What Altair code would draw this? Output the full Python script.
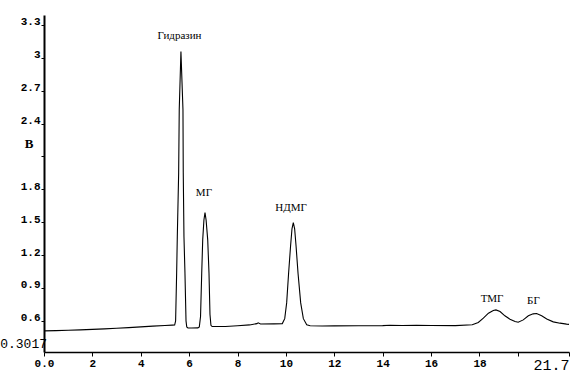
import altair as alt
import pandas as pd

# Chromatogram trace (time, min; signal, V)
time = [0.0, 0.5, 1.0, 1.5, 2.0, 2.5, 3.0, 3.5, 4.0, 4.5, 5.0, 5.3,
        5.40, 5.44, 5.483, 5.51, 5.566, 5.59, 5.66, 5.744, 5.756, 5.785, 5.826, 5.87, 5.90, 5.95,
        6.10, 6.36, 6.42, 6.47, 6.519, 6.56, 6.61, 6.655, 6.70, 6.767, 6.82, 6.86, 6.90, 6.95,
        7.5, 8.0, 8.5, 8.8, 8.85, 8.95, 9.5, 9.85,
        9.95, 10.03, 10.11, 10.19, 10.25, 10.305, 10.36, 10.42, 10.50, 10.61, 10.72, 10.86,
        11.0, 11.5, 12.0, 13.0, 14.0, 14.3, 14.8, 15.4, 16.0, 17.0, 17.7,
        17.95, 18.16, 18.37, 18.57, 18.68, 18.85, 19.05, 19.26, 19.47, 19.60,
        19.81, 20.02, 20.22, 20.36, 20.57, 20.78, 21.05, 21.33, 21.6, 21.7]
signal = [0.509, 0.511, 0.515, 0.518, 0.522, 0.527, 0.532, 0.538, 0.545, 0.552, 0.558, 0.561,
          0.562, 0.60, 1.038, 1.369, 1.95, 2.525, 3.057, 2.525, 1.95, 1.369, 1.038, 0.60, 0.545, 0.536,
          0.535, 0.536, 0.545, 0.64, 1.035, 1.339, 1.52, 1.588, 1.52, 1.339, 1.035, 0.66, 0.56, 0.548,
          0.549, 0.556, 0.563, 0.575, 0.582, 0.572, 0.573, 0.575,
          0.62, 0.764, 1.035, 1.278, 1.44, 1.497, 1.44, 1.278, 1.035, 0.764, 0.62, 0.565,
          0.556, 0.553, 0.554, 0.556, 0.557, 0.560, 0.558, 0.560, 0.558, 0.557, 0.565,
          0.585, 0.625, 0.67, 0.694, 0.70, 0.685, 0.646, 0.615, 0.594, 0.588,
          0.609, 0.646, 0.664, 0.667, 0.646, 0.618, 0.591, 0.579, 0.570, 0.568]

peak_names = ["Гидразин", "МГ", "НДМГ", "ТМГ", "БГ"]
peak_t = [5.60, 6.61, 10.21, 18.52, 20.23]
peak_v = [3.200, 1.763, 1.631, 0.801, 0.782]

x_ticks = [0, 2, 4, 6, 8, 10, 12, 14, 16, 18, 19.6, 21.7]
y_ticks = [0.6, 0.9, 1.2, 1.5, 1.8, 2.1, 2.4, 2.7, 3.0, 3.3]

trace = pd.DataFrame({"t": time, "v": signal})
peaks = pd.DataFrame({"name": peak_names, "t": peak_t, "v": peak_v})

x_scale = alt.Scale(domain=[0, 21.7], nice=False, zero=False)
y_scale = alt.Scale(domain=[0.316, 3.39], nice=False, zero=False)

x_axis = alt.Axis(
    values=x_ticks,
    labelExpr="datum.value == 0 ? '0.0' : (abs(datum.value - 19.6) < 0.01 ? '' : format(datum.value, '~g'))",
    labelFont="Liberation Mono",
    labelFontWeight={"condition": {"test": "datum.value > 21", "value": "normal"}, "value": "bold"},
    labelFontSize={"condition": {"test": "datum.value > 21", "value": 15}, "value": 11},
    labelAlign={"condition": {"test": "datum.value > 21", "value": "right"}, "value": "center"},
    labelColor="black",
    labelFlush=False,
    labelOverlap=False,
    labelPadding=1,
    tickSize=4,
    tickColor="black",
    domainColor="black",
    domainWidth=1.3,
    grid=False,
    title=None,
)

y_axis = alt.Axis(
    values=y_ticks,
    labelExpr="abs(datum.value - 2.1) < 0.01 ? '' : format(datum.value, '.1~f')",
    labelFont="Liberation Mono",
    labelFontWeight="bold",
    labelFontSize=11,
    labelColor="black",
    labelBaseline="alphabetic",
    labelPadding=1,
    labelOverlap=False,
    labelFlush=False,
    tickSize=3,
    tickColor="black",
    domainColor="black",
    domainWidth=2,
    grid=False,
    title="В",
    titleAngle=0,
    titleX=-15.5,
    titleY=128.5,
    titleAlign="center",
    titleBaseline="middle",
    titleFont="Liberation Serif",
    titleFontWeight="bold",
    titleFontSize=13,
    titleColor="black",
)

line = alt.Chart(trace).mark_line(color="black", strokeWidth=1.1).encode(
    x=alt.X("t:Q", scale=x_scale, axis=x_axis),
    y=alt.Y("v:Q", scale=y_scale, axis=y_axis),
)

labels = alt.Chart(peaks).mark_text(
    font="Liberation Serif", fontSize=11, color="black", align="center", baseline="middle"
).encode(
    x=alt.X("t:Q", scale=x_scale, axis=x_axis),
    y=alt.Y("v:Q", scale=y_scale, axis=y_axis),
    text="name:N",
)

ymin_label = alt.Chart(pd.DataFrame({"t": [0.0], "v": [0.301], "s": ["0.3017"]})).mark_text(
    font="Liberation Mono", fontSize=13, color="black", align="right", baseline="alphabetic", dx=3, dy=-6
).encode(
    x=alt.X("t:Q", scale=x_scale, axis=x_axis),
    y=alt.Y("v:Q", scale=y_scale, axis=y_axis),
    text="s:N",
)

chart = alt.layer(line, labels, ymin_label).properties(
    width=525,
    height=337,
    padding={"left": 44, "top": 15, "right": 5, "bottom": 24},
    autosize=alt.AutoSizeParams(type="none"),
    background="white",
).configure_view(stroke=None).configure_axis(labelOverlap=False)

chart.save("out.html", embed_options={"renderer": "svg", "actions": False})
